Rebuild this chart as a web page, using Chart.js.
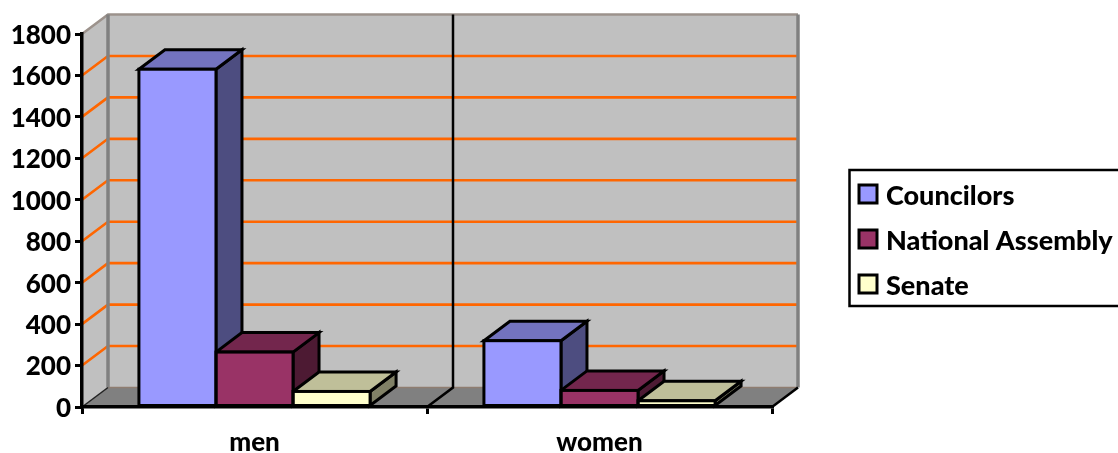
<!DOCTYPE html>
<html>
<head>
<meta charset="utf-8">
<style>
html, body { margin: 0; padding: 0; background: #fff; overflow: hidden; }
#wrap { width: 1118px; height: 453px; }
</style>
<script src="https://cdn.jsdelivr.net/npm/chart.js@4"></script>
</head>
<body>
<div id="wrap"><canvas id="mycanvas" width="1118" height="453"></canvas></div>
<script>
var categories = ['men', 'women'];
var councilors = [1630, 320];
var nationalAssembly = [265, 80];
var senate = [75, 30];
var seriesNames = ['Councilors', 'National Assembly', 'Senate'];
var seriesColors = ['#9999ff', '#993366', '#ffffcc'];
var yTicks = [0, 200, 400, 600, 800, 1000, 1200, 1400, 1600, 1800];

var DEPTH_X = 26;
var DEPTH_Y = 19.5;
var FONT = 'Lato, sans-serif';

// darker version of a series colour for the top and side of a box
function shade(hex, k) {
    var r = parseInt(hex.substr(1, 2), 16);
    var g = parseInt(hex.substr(3, 2), 16);
    var b = parseInt(hex.substr(5, 2), 16);
    return 'rgb(' + Math.round(r * k) + ',' + Math.round(g * k) + ',' + Math.round(b * k) + ')';
}

function poly(ctx, pts, fill, stroke, width) {
    ctx.beginPath();
    ctx.moveTo(pts[0][0], pts[0][1]);
    for (var i = 1; i < pts.length; i++) {
        ctx.lineTo(pts[i][0], pts[i][1]);
    }
    if (fill) {
        ctx.closePath();
        ctx.fillStyle = fill;
        ctx.fill();
    }
    if (stroke) {
        ctx.strokeStyle = stroke;
        ctx.lineWidth = width;
        ctx.stroke();
    }
}

// back wall, side wall, floor and the orange gridlines
var wallsPlugin = {
    id: 'walls',
    beforeDraw: function(chart) {
        var ctx = chart.ctx;
        var x = chart.scales.x;
        var y = chart.scales.y;
        var l = x.left, r = x.right;
        var top = y.getPixelForValue(1800), bot = y.getPixelForValue(0);
        var backL = l + DEPTH_X, backR = r + DEPTH_X;
        var backT = top - DEPTH_Y, backB = bot - DEPTH_Y;
        ctx.save();
        poly(ctx, [[backL, backT], [backR, backT], [backR, backB], [backL, backB]], '#c0c0c0');
        poly(ctx, [[l, top], [backL, backT], [backL, backB], [l, bot]], '#c0c0c0');
        poly(ctx, [[l, bot], [backL, backB], [backR, backB], [r, bot]], '#808080');

        for (var i = 1; i < yTicks.length - 1; i++) {
            var py = y.getPixelForValue(yTicks[i]);
            poly(ctx, [[l, py], [backL, py - DEPTH_Y], [backR, py - DEPTH_Y]], null, '#ff6600', 2.6);
        }

        poly(ctx, [[l, top], [backL, backT], [backR, backT]], null, '#9c928c', 2.5);
        poly(ctx, [[backL, backB], [backR, backB]], null, '#8f7d70', 1.5);
        poly(ctx, [[backL, backT], [backL, backB]], null, '#808080', 3.5);
        poly(ctx, [[backR, backT], [backR, backB]], null, '#808080', 3.5);
        poly(ctx, [[l, bot], [backL, backB]], null, '#222', 1.5);
        poly(ctx, [[r, bot], [backR, backB]], null, '#000', 2.5);

        // divider between the two categories
        var mid = (x.getPixelForValue(0) + x.getPixelForValue(1)) / 2;
        poly(ctx, [[mid, bot], [mid + DEPTH_X, backB], [mid + DEPTH_X, backT]], null, '#000', 2.5);
        ctx.restore();
    }
};

// top and side of each bar go under the fronts, the front outlines go over them
var boxesPlugin = {
    id: 'boxes',
    beforeDatasetsDraw: function(chart) {
        var ctx = chart.ctx;
        ctx.save();
        chart.data.datasets.forEach(function(ds, d) {
            chart.getDatasetMeta(d).data.forEach(function(bar) {
                var l = bar.x - bar.width / 2, r = bar.x + bar.width / 2;
                var t = bar.y, b = bar.base;
                poly(ctx, [[r, t], [r + DEPTH_X, t - DEPTH_Y], [r + DEPTH_X, b - DEPTH_Y], [r, b]],
                    shade(seriesColors[d], 0.5), '#000', 3);
                poly(ctx, [[l, t], [l + DEPTH_X, t - DEPTH_Y], [r + DEPTH_X, t - DEPTH_Y], [r, t]],
                    shade(seriesColors[d], 0.75), '#000', 3);
            });
        });
        ctx.restore();
    },
    afterDatasetsDraw: function(chart) {
        var ctx = chart.ctx;
        ctx.save();
        ctx.strokeStyle = '#000';
        ctx.lineWidth = 3;
        chart.data.datasets.forEach(function(ds, d) {
            chart.getDatasetMeta(d).data.forEach(function(bar) {
                ctx.strokeRect(bar.x - bar.width / 2, bar.y, bar.width, bar.base - bar.y);
            });
        });
        ctx.restore();
    }
};

var legendPlugin = {
    id: 'boxLegend',
    afterDraw: function(chart) {
        var ctx = chart.ctx;
        ctx.save();
        ctx.strokeStyle = '#000';
        ctx.lineWidth = 2.5;
        ctx.strokeRect(849.5, 170, 280, 136);
        ctx.lineWidth = 3;
        ctx.font = '900 27px ' + FONT;
        ctx.textBaseline = 'middle';
        seriesNames.forEach(function(name, i) {
            var cy = 194 + i * 45;
            ctx.fillStyle = seriesColors[i];
            ctx.fillRect(859, cy - 9, 18, 18);
            ctx.strokeRect(859, cy - 9, 18, 18);
            ctx.fillStyle = '#000';
            ctx.fillText(name, 886, cy + 2);
        });
        ctx.restore();
    }
};

var chardata = {
    labels: categories,
    datasets: [councilors, nationalAssembly, senate].map(function(values, i) {
        return {
            label: seriesNames[i],
            data: values,
            backgroundColor: seriesColors[i],
            borderWidth: 0,
            categoryPercentage: 0.67,
            barPercentage: 1
        };
    })
};

function noPadding(scale) {
    scale.paddingTop = 0;
    scale.paddingBottom = 0;
    scale.paddingLeft = 0;
    scale.paddingRight = 0;
}

var ctx = document.getElementById('mycanvas');
var barGraph = new Chart(ctx, {
    type: 'bar',
    data: chardata,
    plugins: [wallsPlugin, boxesPlugin, legendPlugin],
    options: {
        responsive: false,
        animation: false,
        layout: { padding: { top: 34, right: 346, bottom: 0, left: 0 } },
        plugins: {
            legend: { display: false },
            tooltip: { enabled: false }
        },
        scales: {
            x: {
                z: 1,
                afterFit: function(scale) { scale.height = 46; noPadding(scale); },
                grid: { offset: true, drawOnChartArea: false, drawTicks: true, tickLength: 7, color: '#000', lineWidth: 3 },
                border: { display: true, color: '#000', width: 3.5 },
                ticks: {
                    color: '#000',
                    padding: 13,
                    maxRotation: 0,
                    font: { family: FONT, size: 26, weight: '900' }
                }
            },
            y: {
                min: 0,
                max: 1800,
                afterFit: function(scale) { scale.width = 82; noPadding(scale); },
                afterBuildTicks: function(scale) {
                    scale.ticks = yTicks.map(function(v) { return { value: v }; });
                },
                grid: { drawOnChartArea: false, drawTicks: true, tickLength: 7, color: '#000', lineWidth: 3 },
                border: { display: true, color: '#000', width: 3.5 },
                ticks: {
                    color: '#000',
                    padding: 4,
                    autoSkip: false,
                    labelOffset: 1.5,
                    callback: function(v) { return String(v); },
                    font: { family: FONT, size: 26, weight: '900' }
                }
            }
        }
    }
});
</script>
</body>
</html>
